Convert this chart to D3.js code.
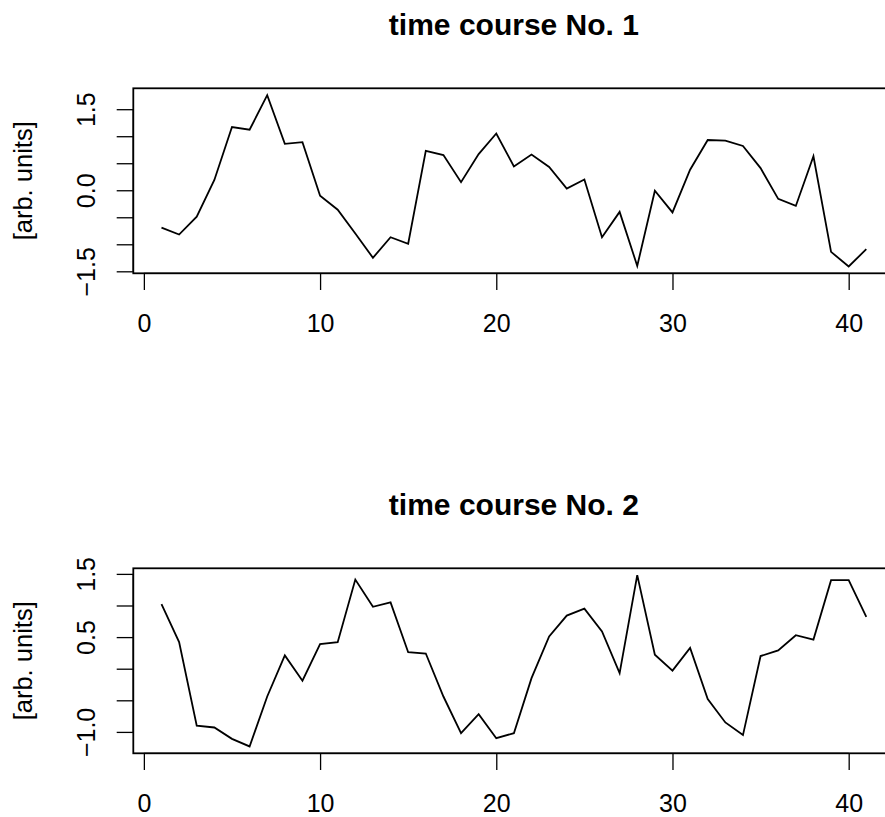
<!DOCTYPE html>
<html><head><meta charset="utf-8">
<script src="https://cdn.jsdelivr.net/npm/d3@7"></script>
<style>
body{margin:0;background:#fff}
svg{display:block}
text{font-family:"Liberation Sans",Arial,Helvetica,sans-serif;fill:#000}
</style>
</head><body>
<svg id="c" width="885" height="817"></svg>
<script>
const timePoints = [1,2,3,4,5,6,7,8,9,10,11,12,13,14,15,16,17,18,19,20,21,22,23,24,25,26,27,28,29,30,31,32,33,34,35,36,37,38,39,40,41];
const series1 = [-0.69,-0.82,-0.49,0.19,1.17,1.12,1.76,0.86,0.89,-0.10,-0.36,-0.80,-1.25,-0.87,-0.99,0.73,0.65,0.15,0.67,1.05,0.44,0.66,0.43,0.03,0.20,-0.87,-0.40,-1.40,-0.01,-0.41,0.38,0.93,0.92,0.82,0.41,-0.16,-0.29,0.63,-1.14,-1.41,-1.09];
const series2 = [1.02,0.42,-0.90,-0.93,-1.11,-1.23,-0.44,0.21,-0.19,0.39,0.42,1.41,0.98,1.05,0.26,0.24,-0.44,-1.02,-0.72,-1.10,-1.02,-0.15,0.51,0.84,0.95,0.59,-0.07,1.48,0.22,-0.03,0.33,-0.48,-0.85,-1.05,0.20,0.29,0.53,0.46,1.40,1.40,0.82];
const titles = ["time course No. 1", "time course No. 2"];
const yLabel = "[arb. units]";
const xTicks = [0, 10, 20, 30, 40];
const yTicks1 = [-1.5, -1.0, -0.5, 0.0, 0.5, 1.0, 1.5];
const yTickLabels1 = [-1.5, 0.0, 1.5];
const yTicks2 = [-1.0, -0.5, 0.0, 0.5, 1.0, 1.5];
const yTickLabels2 = [-1.0, 0.5, 1.5];

const svg = d3.select("#c");
const L = 133.3, R = 894.5, H = 185;
const fmt = d3.format(".1f");
function ext(vals){
  const mn = d3.min(vals), mx = d3.max(vals), r = mx - mn;
  return [mn - 0.04*r, mx + 0.04*r];
}

function panel(top, values, title, yTicks, yLabTicks){
  const g = svg.append("g");
  const x = d3.scaleLinear().domain(ext(timePoints)).range([L, R]);
  const y = d3.scaleLinear().domain(ext(values)).range([top + H, top]);
  const bottom = top + H;

  // data line
  const line = d3.line().x((d,i)=>x(timePoints[i])).y(d=>y(d));
  g.append("path").datum(values).attr("d", line)
    .attr("fill","none").attr("stroke","#000").attr("stroke-width",1.8)
    .attr("stroke-linejoin","miter");

  // box
  g.append("rect").attr("x",L).attr("y",top).attr("width",R-L).attr("height",H)
    .attr("fill","none").attr("stroke","#000").attr("stroke-width",1.8);

  // x axis
  const xa = d3.axisBottom(x).tickValues(xTicks).tickSize(16.7).tickPadding(24).tickFormat(d3.format("d"));
  const gx = g.append("g").attr("transform",`translate(0,${bottom})`).call(xa);
  gx.select(".domain").attr("stroke","#000").attr("stroke-width",1.3)
    .attr("d", `M${x(xTicks[0])},0H${x(xTicks[xTicks.length-1])}`);
  gx.selectAll(".tick line").attr("stroke","#000").attr("stroke-width",1.3);
  gx.selectAll(".tick text").attr("font-size",25).attr("font-family","Liberation Sans, Arial, sans-serif")
    .attr("fill","#000").attr("dy",null).attr("y",58.4).attr("dominant-baseline","auto");

  // y axis
  const ya = d3.axisLeft(y).tickValues(yTicks).tickSize(16.6).tickFormat(d => yLabTicks.some(v=>Math.abs(v-d)<1e-9) ? fmt(d) : "");
  const gy = g.append("g").attr("transform",`translate(${L},0)`).call(ya);
  gy.select(".domain").attr("stroke","#000").attr("stroke-width",1.3)
    .attr("d", `M0,${y(yTicks[0])}V${y(yTicks[yTicks.length-1])}`);
  gy.selectAll(".tick line").attr("stroke","#000").attr("stroke-width",1.3);
  gy.selectAll(".tick text")
    .attr("font-size",25).attr("font-family","Liberation Sans, Arial, sans-serif").attr("fill","#000")
    .attr("x",null).attr("dy",null)
    .attr("text-anchor","middle")
    .attr("transform","translate(-38.3,0) rotate(-90)");

  // title
  g.append("text").attr("x",(L+R)/2).attr("y",top-53.8)
    .attr("text-anchor","middle").attr("font-weight","bold").attr("font-size",30)
    .text(title);

  // y label
  g.append("text")
    .attr("transform",`translate(31.7,${top+H/2}) rotate(-90)`)
    .attr("text-anchor","middle").attr("font-size",25.5)
    .text(yLabel);
}

panel(88.3, series1, titles[0], yTicks1, yTickLabels1);
panel(568.3, series2, titles[1], yTicks2, yTickLabels2);
</script>
</body></html>
